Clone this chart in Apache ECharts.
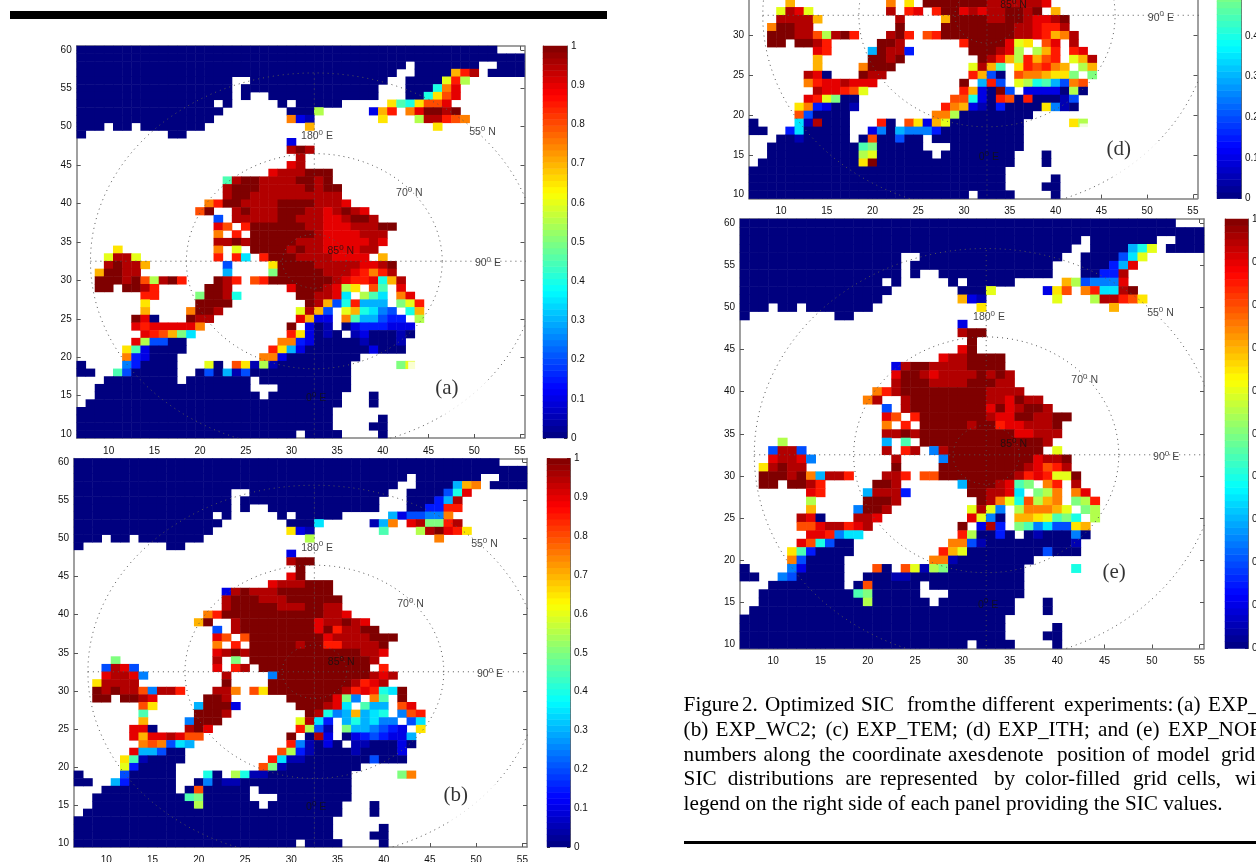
<!DOCTYPE html>
<html><head><meta charset="utf-8">
<style>html,body{margin:0;padding:0;background:#fff;overflow:hidden}#c{width:1256px;height:862px}</style>
<script src="https://cdn.jsdelivr.net/npm/echarts@6/dist/echarts.min.js"></script>
</head><body><div id="c"></div>
<script>
// Grid axes (model grid numbers)
const gridCols=[7,8,9,10,11,12,13,14,15,16,17,18,19,20,21,22,23,24,25,26,27,28,29,30,31,32,33,34,35,36,37,38,39,40,41,42,43,44,45,46,47,48,49,50,51,52,53,54,55];
const gridRows=[10,11,12,13,14,15,16,17,18,19,20,21,22,23,24,25,26,27,28,29,30,31,32,33,34,35,36,37,38,39,40,41,42,43,44,45,46,47,48,49,50,51,52,53,54,55,56,57,58,59,60];
const colorbarTicks=[0,0.1,0.2,0.3,0.4,0.5,0.6,0.7,0.8,0.9,1];
const graticuleLats=[55,70,85];
// SIC rows, top row first. "col:cells": A=0, B=0.05, ... U=1; letter+n repeats; absent = no ice model cell.
const sicA=[
"7:A46","7:A49","7:A36 44:A7 53:A3","7:A35 44:A4 48:ORT 52:A4","7:A17 26:A15 43:A4 47:MRL",
"7:A17 25:A15 43:A3 46:IPS","7:A17 25:A 28:A12 43:A2 45:INQS","7:A15 23:A 29:A 31:A5 41:NJINQQS",
"7:A16 30:A3 33:L 39:COR 43:PSUUTU","7:A15 30:PCB 40:N 44:LTTRQP","7:A3 11:AA 14:A7 32:O 46:N","7:A 17:AA",
"30:C","30:TUT","31:T","30:ST","28:STTTUUU","23:JTUUTTTTUUTU","23:TUUUTTTTTUTUU","23:TUUTTTTTTTTTT",
"21:PRUUTTTTUUUUTTTS","20:QU 24:TUTTTUUUTTSTUTS","22:E 24:TTTTTUUTTTSSTUUT","22:SQ 25:R 26:UUUUUUTTSSSTTTUU",
"22:P 24:R 26:UUUUUUUTSSSSTTT","22:TTUT 26:UUUUUTTTSSSSSTS","11:N 22:P 24:M 26:UUUUTUTTSSSSTT",
"10:MTTM 22:R 24:RH 27:R 28:UUUTTTTSSSS 40:O","10:TUTTO 23:E 28:N 29:UUUUTTTTTSSTU","9:OUUTT 23:G 28:K 29:UUUUUTTTSRPRT",
"9:UUUTUQLTUR 22:UTR 26:QR 28:UUUUUUUTSRRSIOT","9:UU 12:UUTR 21:UUT 30:S 31:UUUTS 36:LN 39:QJ 42:S",
"14:RR 20:KUUTI 31:UUTTS 36:H 38:LJH 42:PS","14:N 20:UUUU 32:UTOEI 37:RGGG 42:KMR","14:O 19:PUUT 31:MTOE 36:MOIHFE 43:IO",
"13:USA 19:UTT 31:SOCC 36:PJGGEDD 44:L","13:SRSSSSSP 30:U 32:CAB 36:ACDDDCCC","14:SRQOKH 30:RN 32:CABA 37:BCAAAB 43:A",
"13:SLEE 17:AA 29:PPDC 33:A5 38:BAAAB","12:NJC 15:A4 28:RNGC 32:A7 39:C 40:AAA","12:PDC 15:A3 27:PPC 30:A8",
"7:A 12:FD 14:A4 21:MA 24:QNBLB 29:A8 42:KM","7:AA 11:JE 13:A5 20:AEA 23:GBE 26:A11","10:A8 19:A7 27:A10","9:A17 29:A8",
"9:A18 28:A8 39:A","8:A28 39:A","7:A28","7:A28 40:A","7:A28 39:AA","7:A24 32:A4 40:A"];
const sicB=[
"7:A46","7:A49","7:A36 44:A7 53:A3","7:A35 44:A4 48:GOP 52:A4","7:A17 26:A15 43:A4 47:EIS",
"7:A17 25:A15 43:A3 46:DGT","7:A17 25:A 28:A12 43:A2 45:DDRR","7:A15 23:A 29:A 31:A5 41:GCEEFFP",
"7:A16 30:A3 33:H 39:BGP 43:STKKRT","7:A15 30:NCB 40:J 44:LTUSRN","7:A3 11:AA 14:A7 32:L 46:P","7:A 17:AA",
"30:C","30:TUU","31:U","30:SU","28:STTTUUU","23:CTUTTTUUUUUU","23:TUUUTTTUUUUUU","23:TUUUUUTTTUUTT",
"21:PRUUUUUUUUUUUTTS","20:OU 24:TUUUUUUUUSTTUTS","22:E 24:TUUUUUUUUSURTTUU","22:SQ 25:Q 26:UUUUUUUUSTTTTUUU",
"22:P 24:R 26:UUUUUTUURRTTTTU","22:STUT 26:UUUUUUUUUUUUTTS","11:K 22:T 24:K 26:UUUUUUUUUUUUUT",
"10:ETSE 22:S 24:RT 27:U 28:UUUUUUUUUUU 40:R","10:STTSF 23:T 28:F 29:UUUUUUUUUUTST","9:NTTTT 23:U 28:UUUUUUUUUTRST",
"9:UTUTTQFTTR 22:TTP 26:QN 28:UUUUUUUUTRSRIHU","9:UU 12:UUTS 21:UUT 30:UUUUUS 36:KF 39:PJ 42:U",
"14:QN 20:GUUUC 31:UUUTS 36:H 38:JGG 42:QS","14:J 20:UUUT 32:UTIFG 37:OGHI 42:FQR","14:O 19:FUUU 31:MTHD 36:GIGHFF 43:EH",
"13:SSA 19:TUS 31:RLEB 36:KGGFEDC 44:N","13:SOSSTSQQ 30:U 32:ATC 36:ACDEDCCG","14:PQPEHG 30:RF 32:BACA 37:BBAAAC 43:A",
"13:SGGE 17:AA 29:QLDB 33:A4 37:BAAAAC","12:NJB 15:A4 28:RHBB 32:A7 39:E 40:AAA","12:MD 14:A4 27:QKB 30:A8",
"7:A 12:E 13:A5 21:IA 24:LIBBA 29:A8 42:KP","7:AA 11:GD 13:A5 20:AFA 23:BB 25:A12","10:A8 19:AQ 21:A5 27:A10","9:A10 19:JK 21:A5 29:A8",
"9:A11 20:L 21:A6 28:A8 39:A","8:A28 39:A","7:A28","7:A28 40:A","7:A28 39:AA","7:A24 32:A4 40:A"];
// panel (d) is cut by the page top: rows start at 34
const sicD=[
"11:O 22:P 24:N 26:UUUUUUUTTTTTTS","10:MTSM 22:T 24:RS 27:R 28:UUSTSTTUUTU 40:O","10:TTTTO 23:T 28:O 29:UUUUTTUUTSSTU","9:PUUTT 23:U 28:UUUUUUUUTTSRRT",
"9:UUUTTQLTUR 22:TUR 26:QR 28:UUUUUUUU 36:TTSROPT","9:UU 12:UUTR 21:UUT 30:R 31:UUUUS 36:MN 39:QS 42:T",
"14:SR 20:GUTTD 31:UUUTS 36:L 38:LOR 42:RS","14:O 20:UUTU 32:UTROLROQR 42:MOT","14:O 19:PUUU 31:MTOJ 36:NRQRPO 43:LO",
"13:TSA 19:UTT 31:ROEA 36:QPPONNK 44:K","13:PRSSTSSS 30:U 32:GRE 36:MLIJGEPQ","14:TSSRQM 30:RO 32:CAUE 37:CCCCALA",
"13:SRMKAA 29:QQIC 33:ARQARAAAB 42:E","12:NPDCAAB 28:RPOCBAD 35:AAAA 39:NFBA","12:QE 14:A4 27:PPL 30:A8",
"7:A 12:HBT 15:A3 21:RA 24:QNCOM 29:A8 42:NL","7:AA 11:DH 13:A5 20:CFA 23:GFFFD 28:A9","10:AAB 13:A5 19:AQAAEAA 27:A10","9:A10 19:JK 21:A5 29:A8",
"9:A10 19:LM 21:A6 28:A8 39:A","8:A11 19:NU 21:A15 39:A","7:A28","7:A28 40:A","7:A28 39:AA","7:A24 32:A4 40:A"];
const sicE=[
"7:A46","7:A49","7:A36 44:A7 53:A3","7:A35 44:A4 48:GIM 52:A4","7:A17 26:A15 43:A4 47:EHM",
"7:A17 25:A15 43:A3 46:DGS","7:A17 25:A 28:A12 43:A2 45:DDT","7:A15 23:A 29:A 31:A5 41:OLEFFFS",
"7:A16 30:A3 33:M 39:CNQ 43:PRHHTU","7:A15 30:OCB 40:M 44:LTTRQN","7:A3 11:AA 14:A7 32:N 46:O","7:A 17:AA",
"30:C","30:TUU","31:U","30:SU","28:STTUUUU","23:CTUUTTTTUUUU","23:SUUTSTTTTUTUT","23:TUUUTTTTUUUTT",
"21:PRTUUUUUUUUUTTTT","20:PT 24:TUUUUUUUUTTSUTT","22:E 24:TUUUUUUUUSUSTUUT","22:SQ 25:R 26:UUUUUUUTSSUUTTUU",
"22:P 24:R 26:UUUUUTUURSSTTTU","22:TTUT 26:UUUUUUUUUUSSTTT","11:L 22:G 24:J 26:UUUUUUUUUUUUUT",
"10:ETTE 22:T 24:RT 27:F 28:TUUUUUUUUUU 40:M","10:STTSF 23:T 28:F 29:UUUUUUUUUSTTU","9:NTUTT 23:U 28:UUUUUUUUUTSQRT",
"9:UUUTUPGTTR 22:TTR 26:QQ 28:UUUUUUUUTRSRMMU","9:UU 12:UUTR 21:UUT 30:G 31:UUUTS 36:JK 39:PR 42:T",
"14:SR 20:GTTTD 31:UUTTS 36:H 38:KLP 42:PS","14:L 20:UUUT 32:UTPMIQLOP 42:KLR","14:O 19:FUUT 31:MTMF 36:LPPPOM 43:KL",
"13:TSA 19:TTS 31:SMFA 36:OONMJKI 44:L","13:QQSTTRST 30:U 32:CTD 36:KJFHEENO","14:SSRFHH 30:RL 32:AADA 37:ABAAAF 43:A",
"13:SQIE 17:AA 29:PPEB 33:A9 42:B","12:NJD 15:A4 28:ROMA 32:A7 39:E 40:AAA","12:PE 14:A4 27:PPB 30:A8",
"7:A 12:FC 14:A4 21:QA 24:QMBLK 29:A8 42:I","7:AA 11:FE 13:A5 20:AAABB 25:A12","10:A8 19:AQ 21:A5 27:A10","9:A10 19:JK 21:A5 29:A8",
"9:A11 20:L 21:A6 28:A8 39:A","8:A28 39:A","7:A28","7:A28 40:A","7:A28 39:AA","7:A24 32:A4 40:A"];

const jet=['#00007f','#0000ff','#007fff','#00ffff','#7fff7f','#ffff00','#ff7f00','#ff0000','#7f0000'];
const colorbarLevels=Array.from({length:64},(_,i)=>(i+0.5)/64);

function parseRows(rows,topY){
  const out=[];
  rows.forEach((row,r)=>{
    const yIdx=gridRows.indexOf(topY-r);
    row.split(' ').forEach(tok=>{
      const [c,body]=tok.split(':'); let col=+c;
      body.replace(/([A-U])(\d*)/g,(m,ch,n)=>{
        for(let k=0,cnt=n?+n:1;k<cnt;k++,col++){
          const xi=gridCols.indexOf(col);
          if(xi>=0) out.push([xi,yIdx,(ch.charCodeAt(0)-65)*0.05]);
        }
        return m;
      });
    });
  });
  return out;
}

const panels=[
 {letter:'(a)',rows:sicA,topY:60,left:76.7,top:46,w:447.8,h:392,barL:543,barW:24,letterAt:[47,16],pad:[16,27,16,27]},
 {letter:'(b)',rows:sicB,topY:60,left:74,top:458.5,w:453,h:388.5,barL:547,barW:23,letterAt:[47.8,16.3],pad:[16,27,16,27]},
 {letter:'(d)',rows:sicD,topY:34,left:749,top:-207.9,w:448.5,h:406.5,barL:1217,barW:24,letterAt:[46.9,15.6],pad:[16,27,16,27]},
 {letter:'(e)',rows:sicE,topY:60,left:740,top:219,w:464,h:429.5,barL:1225,barW:23,letterAt:[46,18.5],pad:0}
];
const FONT='"Liberation Sans",Arial,sans-serif', SERIF='"Liberation Serif","Times New Roman",serif';
const every5=(i,v)=>Number(v)%5===0;
const grid=[],xAxis=[],yAxis=[],series=[],heatIdx=[];
const axisLineS={show:true,lineStyle:{color:'#808080',width:1.5}};
const tickS={show:true,inside:true,length:4,alignWithLabel:true,interval:every5,lineStyle:{color:'#555',width:1}};
const rect=(l,t,w,h)=>({left:l,top:t,width:w,height:h,containLabel:false,outerBoundsMode:'none'});

function mapAxes(g){
  const base={type:'category',gridIndex:g,boundaryGap:true,axisLine:{...axisLineS,onZero:false},axisTick:tickS,splitLine:{show:false}};
  const xi=xAxis.length, yi=yAxis.length;
  const lab={color:'#111',fontSize:10,fontFamily:FONT,interval:every5};
  xAxis.push({...base,data:gridCols,position:'bottom',axisLabel:{...lab,margin:8}});
  xAxis.push({...base,data:gridCols,position:'top',axisLabel:{show:false}});
  yAxis.push({...base,data:gridRows,position:'left',axisLabel:{...lab,margin:5}});
  yAxis.push({...base,data:gridRows,position:'right',axisLabel:{show:false}});
  return [xi,yi];
}
function graticule(g,p){
  const xi=xAxis.length, yi=yAxis.length;
  xAxis.push({type:'value',gridIndex:g,min:6.5,max:55.5,show:false});
  yAxis.push({type:'value',gridIndex:g,min:9.5,max:60.5,show:false});
  const ls={color:'#555',width:1,type:[1,4]};
  const common={type:'line',xAxisIndex:xi,yAxisIndex:yi,showSymbol:false,symbol:'none',silent:true,clip:true,lineStyle:ls,animation:false,z:5};
  graticuleLats.forEach(lat=>{
    const r=0.7*(90-lat),pts=[];
    for(let d=0;d<=360;d+=3)pts.push([32.5+r*Math.cos(d*Math.PI/180),32.5+r*Math.sin(d*Math.PI/180)]);
    series.push({...common,data:pts});
  });
  series.push({...common,data:[[8,32.5],[57,32.5]]});
  series.push({...common,data:[[32.5,8],[32.5,57]]});
  const rich={s:{fontSize:8,fontFamily:FONT,color:'#111',padding:[0,0,7,0]}};
  const mk=(pos,t)=>({value:pos,label:{formatter:t}});
  series.push({type:'scatter',xAxisIndex:xi,yAxisIndex:yi,symbolSize:1,silent:true,animation:false,z:7,clip:true,
    itemStyle:{color:'transparent'},
    label:{show:true,position:'inside',fontSize:10.5,fontFamily:FONT,color:'#111',rich},
    data:[mk([32.8,48.8],'180{s|0} E'),mk([50.9,49.3],'55{s|0} N'),mk([42.9,41.4],'70{s|0} N'),mk([35.4,33.8],'85{s|0} N'),mk([51.5,32.2],'90{s|0} E'),mk([32.7,14.7],'0{s|0} E')]});
  series.push({type:'scatter',xAxisIndex:xi,yAxisIndex:yi,symbolSize:1,silent:true,animation:false,z:6,
    itemStyle:{color:'transparent'},
    label:{show:true,position:'inside',fontSize:21,fontFamily:SERIF,color:'#000',formatter:p.letter,backgroundColor:p.pad?'#fff':'transparent',padding:p.pad},
    data:[p.letterAt]});
}
function colorbar(p){
  const g=grid.length;
  grid.push(rect(p.barL,p.top,p.barW,p.h));
  const xi=xAxis.length, yi=yAxis.length;
  xAxis.push({type:'category',gridIndex:g,data:['SIC'],axisLabel:{show:false},axisTick:{show:false},axisLine:{show:false}});
  yAxis.push({type:'category',gridIndex:g,data:colorbarLevels,axisLabel:{show:false},axisTick:{show:false},axisLine:{show:false}});
  const vBase={type:'value',gridIndex:g,min:0,max:1,interval:0.1,splitLine:{show:false},axisLine:{show:true,onZero:false,lineStyle:{color:'#666',width:1}},
    axisTick:{show:true,inside:true,length:3,lineStyle:{color:'#333'}}};
  yAxis.push({...vBase,position:'right',axisLabel:{show:true,margin:4,color:'#111',fontSize:10,fontFamily:FONT,
     formatter:v=>colorbarTicks.includes(+v.toFixed(1))?String(+v.toFixed(1)):''}});
  yAxis.push({...vBase,position:'left',axisLabel:{show:false}});
  heatIdx.push(series.length);
  series.push({type:'heatmap',xAxisIndex:xi,yAxisIndex:yi,silent:true,animation:false,progressive:0,
    data:colorbarLevels.map((v,i)=>[0,i,v])});
}

panels.forEach(p=>{
  const g=grid.length;
  grid.push(rect(p.left,p.top,p.w,p.h));
  const [xi,yi]=mapAxes(g);
  heatIdx.push(series.length);
  series.push({type:'heatmap',xAxisIndex:xi,yAxisIndex:yi,silent:true,animation:false,progressive:0,data:parseRows(p.rows,p.topY)});
  const g2=grid.length;
  grid.push(rect(p.left,p.top,p.w,p.h));
  graticule(g2,p);
  colorbar(p);
});

const cap=(t,x,i)=>({type:'text',left:x,top:lineTop[i],silent:true,style:{text:t,fill:'#000',font:'21.2px '+SERIF}});
const lineTop=[694.5,719.5,744.5,768.5,793.5];
const capWords=[
 [['Figure',683.6],['2.',742],['Optimized',765],['SIC',861],['from',907],['the',950],['different',982],['experiments:',1064],['(a)',1177],['EXP_',1208]],
 [['(b)',683.6],['EXP_WC2;',715.5],['(c)',825.4],['EXP_TEM;',856.6],['(d)',966],['EXP_ITH;',998],['and',1098],['(e)',1136],['EXP_NOR',1168]],
 [['numbers',683.6],['along',763.4],['the',819],['coordinate',852],['axes',948],['denote',987],['position',1057],['of',1132],['model',1157],['grids',1221]],
 [['SIC',683.6],['distributions',727.7],['are',845.6],['represented',880],['by',994],['color-filled',1025],['grid',1133],['cells,',1177],['with',1235]],
 [['legend on the right side of each panel providing the SIC values.',683.6]]
];
const graphic=[
 {type:'rect',shape:{x:10,y:11,width:597,height:8},style:{fill:'#000'},silent:true},
 {type:'rect',shape:{x:684,y:841,width:572,height:3},style:{fill:'#000'},silent:true}
];
capWords.forEach((line,i)=>line.forEach(w=>graphic.push(cap(w[0],w[1],i))));
const chart=echarts.init(document.getElementById('c'),null,{renderer:'canvas'});
chart.setOption({animation:false,backgroundColor:'#fff',grid,xAxis,yAxis,series,graphic,
  visualMap:[{type:'continuous',show:false,min:0,max:1,dimension:2,seriesIndex:heatIdx,inRange:{color:jet}}]});
</script></body></html>
